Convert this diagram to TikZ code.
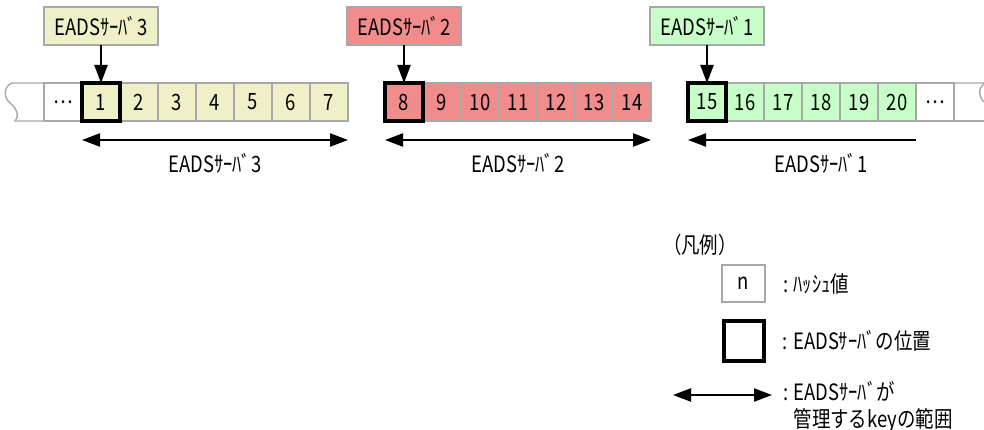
\documentclass[tikz,border=0pt]{standalone}
\usepackage{fontspec}
\setmainfont{Noto Sans CJK JP}[FakeStretch=0.82]
\usetikzlibrary{arrows.meta, positioning}
\definecolor{CellGray}{HTML}{A8A8A8}
\definecolor{SrvYellow}{HTML}{F0F0C8}
\definecolor{SrvRed}{HTML}{F08C8C}
\definecolor{SrvGreen}{HTML}{C8FFC8}

\begin{document}
\begin{tikzpicture}[
    node distance=0pt,
    cell/.style={draw=CellGray, line width=1pt, minimum width=0.95cm, minimum height=0.95cm,
      inner sep=0pt, outer sep=0pt, font=\fontsize{16}{20}\selectfont},
    srvbox/.style={draw=CellGray, line width=1pt, minimum width=2.85cm, minimum height=0.95cm,
      inner sep=0pt, outer sep=0pt, font=\fontsize{16}{20}\selectfont},
    posframe/.style={draw=black, line width=0.1cm},
    txt/.style={inner sep=0pt, outer sep=0pt, font=\fontsize{16}{19}\selectfont},
    arrow/.style={-{Triangle[length=0.45cm, width=0.33cm]}, line width=1.1pt},
    spanarrow/.style={{Triangle[length=0.45cm, width=0.33cm]}-{Triangle[length=0.45cm, width=0.33cm]}, line width=1.1pt},
    lspanarrow/.style={{Triangle[length=0.45cm, width=0.33cm]}-, line width=1.1pt}
  ]
    \useasboundingbox (0,0) rectangle (24.6,-10.75);

    % hash ring, server 3 part
    \node[cell] (dl) at (1.575,-2.55) {…};
    \node[cell, fill=SrvYellow, right=of dl] (c1) {1};
    \node[cell, fill=SrvYellow, right=of c1] (c2) {2};
    \node[cell, fill=SrvYellow, right=of c2] (c3) {3};
    \node[cell, fill=SrvYellow, right=of c3] (c4) {4};
    \node[cell, fill=SrvYellow, right=of c4] (c5) {5};
    \node[cell, fill=SrvYellow, right=of c5] (c6) {6};
    \node[cell, fill=SrvYellow, right=of c6] (c7) {7};
    % server 2 part
    \node[cell, fill=SrvRed, right=0.925cm of c7] (c8) {8};
    \node[cell, fill=SrvRed, right=of c8] (c9) {9};
    \node[cell, fill=SrvRed, right=of c9] (c10) {10};
    \node[cell, fill=SrvRed, right=of c10] (c11) {11};
    \node[cell, fill=SrvRed, right=of c11] (c12) {12};
    \node[cell, fill=SrvRed, right=of c12] (c13) {13};
    \node[cell, fill=SrvRed, right=of c13] (c14) {14};
    % server 1 part
    \node[cell, fill=SrvGreen, right=0.925cm of c14] (c15) {15};
    \node[cell, fill=SrvGreen, right=of c15] (c16) {16};
    \node[cell, fill=SrvGreen, right=of c16] (c17) {17};
    \node[cell, fill=SrvGreen, right=of c17] (c18) {18};
    \node[cell, fill=SrvGreen, right=of c18] (c19) {19};
    \node[cell, fill=SrvGreen, right=of c19] (c20) {20};
    \node[cell, right=of c20] (dr) {…};

    % torn ends
    \draw[CellGray, line width=1pt] (1.1,-2.075) -- (0.3,-2.075)
      .. controls (0.1,-2.15) and (0.075,-2.425) .. (0.25,-2.575)
      .. controls (0.45,-2.725) and (0.475,-2.95) .. (0.375,-3.025) -- (1.1,-3.025);
    \draw[CellGray, line width=1pt] (23.85,-2.075) -- (24.65,-2.075)
      .. controls (24.45,-2.15) and (24.45,-2.4) .. (24.6,-2.55);
    \draw[CellGray, line width=1pt] (23.85,-3.025) -- (24.7,-3.025);

    \node[srvbox, fill=SrvYellow, above=0.95cm of c1] (srv3) {EADSｻｰﾊﾞ3};
    \node[srvbox, fill=SrvRed, above=0.95cm of c8] (srv2) {EADSｻｰﾊﾞ2};
    \node[srvbox, fill=SrvGreen, above=0.95cm of c15] (srv1) {EADSｻｰﾊﾞ1};

    \draw[arrow] (srv3) -- (c1);
    \draw[arrow] (srv2) -- (c8);
    \draw[arrow] (srv1) -- (c15);

    \draw[posframe] (c1.north west) rectangle (c1.south east);
    \draw[posframe] (c8.north west) rectangle (c8.south east);
    \draw[posframe] (c15.north west) rectangle (c15.south east);

    \draw[spanarrow] ([yshift=-0.475cm]c1.south west) -- ([yshift=-0.475cm]c7.south east);
    \draw[spanarrow] ([yshift=-0.475cm]c8.south west) -- ([yshift=-0.475cm]c14.south east);
    \draw[lspanarrow] ([yshift=-0.475cm]c15.south west) -- ([yshift=-0.475cm]dr.south west);

    \node[txt] (rng3) at ([yshift=-1.05cm]c4.south) {EADSｻｰﾊﾞ3};
    \node[txt] (rng2) at ([yshift=-1.05cm]c11.south) {EADSｻｰﾊﾞ2};
    \node[txt] (rng1) at ([yshift=-1.05cm]c18.south) {EADSｻｰﾊﾞ1};

    % legend
    \node[txt, anchor=west] (legtitle) at (16.575,-6.125) {（凡例）};
    \node[cell, minimum width=1.075cm, minimum height=0.925cm] (hashbox) at (18.59,-7.09) {n};
    \node[txt, right=0.45cm of hashbox] (hashtxt) {: ﾊｯｼｭ値};
    \node[posframe, minimum size=1.0cm, inner sep=0pt, outer sep=0pt, below=0.475cm of hashbox] (posbox) {};
    \node[txt, right=0.475cm of posbox] (postxt) {: EADSｻｰﾊﾞの位置};
    \coordinate (la1) at (16.825,-9.875);
    \coordinate (la2) at (19.3,-9.875);
    \draw[spanarrow] (la1) -- (la2);
    \node[txt, anchor=north west, align=left] (spantxt) at (19.575,-9.54)
      {: EADSｻｰﾊﾞが\\\phantom{: }管理するkeyの範囲};
  \end{tikzpicture}
\end{document}
